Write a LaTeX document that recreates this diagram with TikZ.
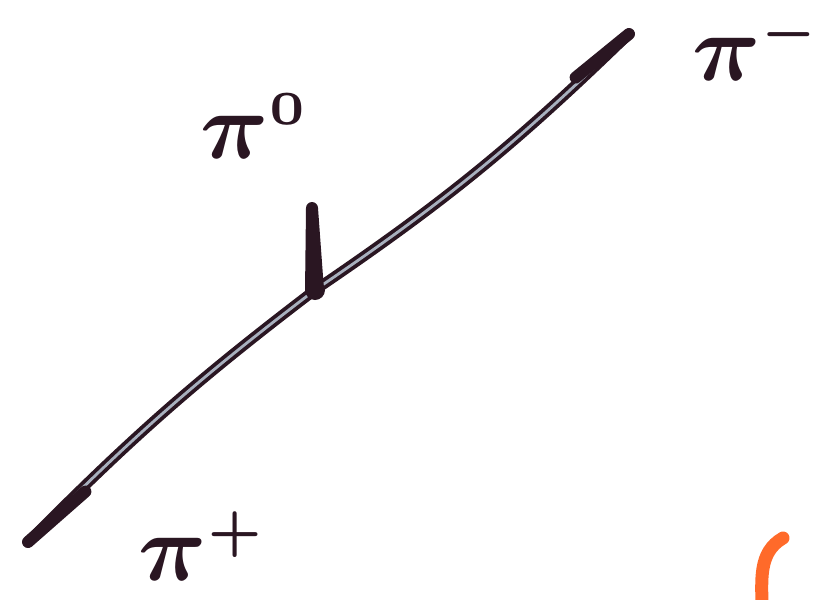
\documentclass[tikz,border=0pt]{standalone}
\usepackage{amsmath}
\usepackage{graphicx}
\usepackage{xcolor}
\usetikzlibrary{positioning,calc}

\definecolor{ink}{HTML}{2A1622}
\definecolor{inkmid}{HTML}{A8B0BE}
\definecolor{marker}{HTML}{FF6A2A}

\newcommand{\bigpi}[1]{\scalebox{9.5}{\boldmath$\pi^{\scriptscriptstyle #1}$}}

\begin{document}
\begin{tikzpicture}[
      x=1pt, y=-1pt,
      lbl/.style={inner sep=0pt, text=ink},
      spur/.style={draw=ink, line width=3.8pt, double=inkmid, double distance=2.8pt},
      endcap/.style={ink, line width=12pt, line cap=round},
      stroke/.style={marker, line width=13pt, line cap=round}]
    \useasboundingbox[fill=white] (0,0) rectangle (825,600);
    % vertex and track ends
    \coordinate (v) at (315,290);
    \coordinate (pp) at (28,542);
    \coordinate (pm) at (629,34);
    \coordinate (pz) at (312,200);
    % tracks
    \draw[spur] (pp) to[bend left=4] (v);
    \draw[spur] (v) to[bend right=5] (pm);
    \draw[endcap] (pp) -- ($(pp)!0.2!(v)$);
    \draw[endcap] (pm) -- ($(pm)!0.17!(v)$);
    % short neutral stub
    \fill[ink] ($(v)+(-10,2)$) -- ($(pz)+(-6,8)$) arc[start angle=180, end angle=360, radius=6] -- ($(v)+(9,0)$) -- cycle;
    \fill[ink] (v) circle (10);
    % labels
    \node[lbl] (pizero) at (255,126) {\bigpi{0}};
    \node[lbl, anchor=west] (piminus) at (692,46) {\bigpi{-}};
    \node[lbl] (piplus) at (203,546) {\bigpi{+}};
    % orange mark
    \draw[stroke] (783,538) to[out=-150,in=90] (762,610);
\end{tikzpicture}
\end{document}
